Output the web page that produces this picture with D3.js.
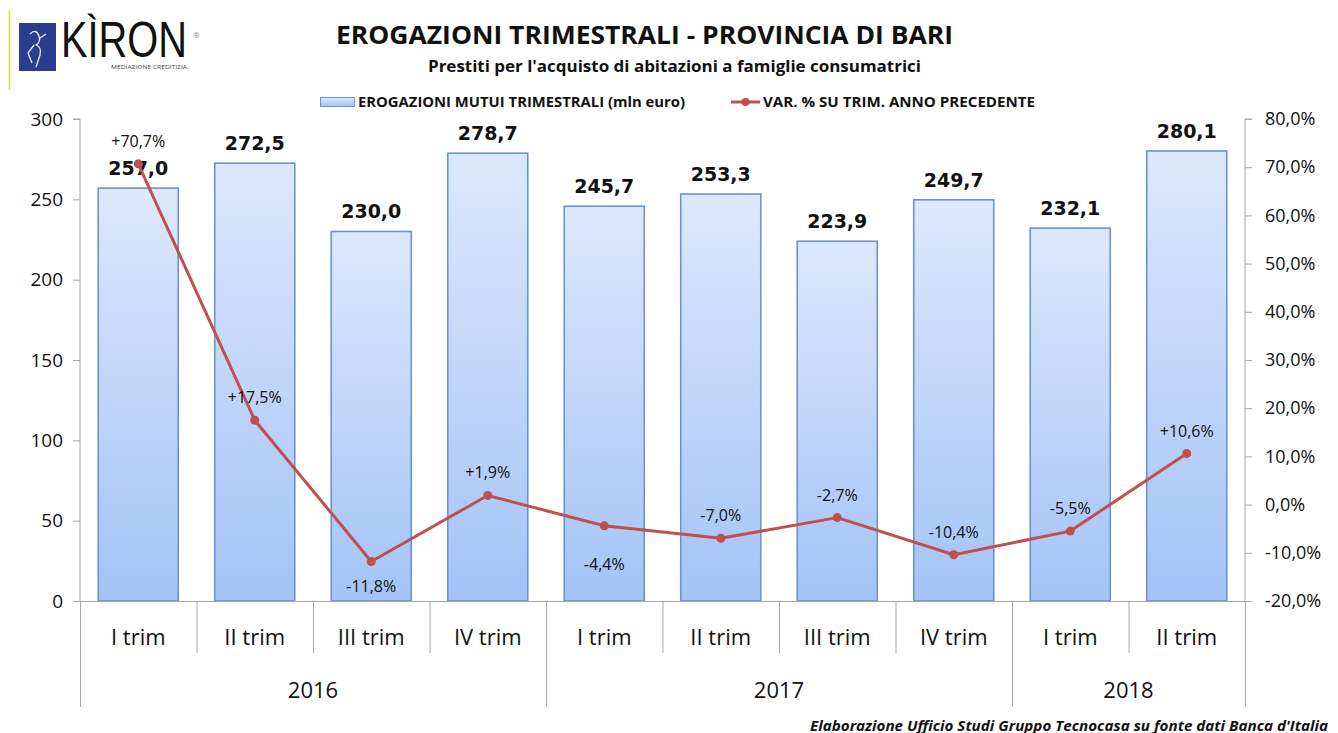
<!DOCTYPE html>
<html><head><meta charset="utf-8">
<script src="https://cdn.jsdelivr.net/npm/d3@7"></script>
<style>
html,body{margin:0;padding:0;background:#fff;}
svg{display:block;font-family:"Open Sans","Liberation Sans",sans-serif;}
</style></head>
<body>
<svg id="c" width="1338" height="733"></svg>
<script>
const quarters = ["I trim","II trim","III trim","IV trim","I trim","II trim","III trim","IV trim","I trim","II trim"];
const years = ["2016","2017","2018"];
const quartersPerYear = [4,4,2];
const erogazioni = [257.0,272.5,230.0,278.7,245.7,253.3,223.9,249.7,232.1,280.1];
const variazione = [70.7,17.5,-11.8,1.9,-4.4,-7.0,-2.7,-10.4,-5.5,10.6];
const varLabelSide = ["above","above","below","above","below","above","above","above","above","above"];
const leftTicks = [0,50,100,150,200,250,300];
const rightTicks = [-20,-10,0,10,20,30,40,50,60,70,80];

const svg = d3.select("#c");
const L = 80, R = 1245, T = 119, B = 601;
const fmt1 = v => v.toFixed(1).replace(".", ",");
const fmtPct = v => (v > 0 ? "+" : "") + v.toFixed(1).replace(".", ",") + "%";

const idx = d3.range(quarters.length);
const x = d3.scaleBand().domain(idx).range([L, R]).paddingInner(0.313).paddingOuter(0.1565);
const step = x.step();
const yL = d3.scaleLinear().domain([0, 300]).range([B, T]);
const yR = d3.scaleLinear().domain([-20, 80]).range([B, T]);

// gradient
const defs = svg.append("defs");
const g = defs.append("linearGradient").attr("id","barGrad").attr("x1",0).attr("y1",0).attr("x2",0).attr("y2",1);
g.append("stop").attr("offset","0%").attr("stop-color","#dde8fc");
g.append("stop").attr("offset","100%").attr("stop-color","#a3c3f7");
const lg = defs.append("linearGradient").attr("id","legGrad").attr("x1",0).attr("y1",0).attr("x2",0).attr("y2",1);
lg.append("stop").attr("offset","0%").attr("stop-color","#dde8fc");
lg.append("stop").attr("offset","100%").attr("stop-color","#a3c3f7");

// logo
svg.append("line").attr("x1",9.5).attr("x2",9.5).attr("y1",10).attr("y2",90).attr("stroke","#d8dc3a").attr("stroke-width",1.5);
svg.append("rect").attr("x",19).attr("y",23).attr("width",37).attr("height",48).attr("fill","#2a3d8f");
svg.append("path").attr("d","M30 34 q6 -6 9 2 q2 6 -3 9 q6 2 4 10 l-4 12 M34 45 l-6 8 l4 10 M40 38 l6 -4")
  .attr("fill","none").attr("stroke","#e8ecf6").attr("stroke-width",1.3);
svg.append("text").attr("x",61).attr("y",57).attr("font-family","Liberation Sans, sans-serif").attr("font-size",50)
  .attr("fill","#111").attr("textLength",126).attr("lengthAdjust","spacingAndGlyphs").text("KÌRON");
svg.append("text").attr("x",193).attr("y",38).attr("font-size",8).attr("fill","#888").text("®");
svg.append("text").attr("x",111).attr("y",69).attr("font-size",6).attr("fill","#444").attr("textLength",76).attr("lengthAdjust","spacingAndGlyphs").text("MEDIAZIONE CREDITIZIA");

// titles
svg.append("text").attr("x",336).attr("y",44).attr("font-size",25).attr("font-weight","bold").attr("fill","#111")
  .attr("textLength",617).attr("lengthAdjust","spacingAndGlyphs").text("EROGAZIONI TRIMESTRALI - PROVINCIA DI BARI");
svg.append("text").attr("x",428).attr("y",72).attr("font-size",16).attr("font-weight","bold").attr("fill","#111")
  .attr("textLength",493).attr("lengthAdjust","spacingAndGlyphs").text("Prestiti per l'acquisto di abitazioni a famiglie consumatrici");

// legend
svg.append("rect").attr("x",320.5).attr("y",97.5).attr("width",34).attr("height",9).attr("fill","url(#legGrad)").attr("stroke","#6a93d0").attr("stroke-width",1);
svg.append("text").attr("x",358).attr("y",107).attr("font-size",14).attr("font-weight","bold").attr("fill","#111")
  .attr("textLength",327).attr("lengthAdjust","spacingAndGlyphs").text("EROGAZIONI MUTUI TRIMESTRALI (mln euro)");
svg.append("line").attr("x1",731).attr("x2",760).attr("y1",102).attr("y2",102).attr("stroke","#c0504d").attr("stroke-width",3);
svg.append("circle").attr("cx",745.5).attr("cy",102).attr("r",4).attr("fill","#c0504d");
svg.append("text").attr("x",763).attr("y",107).attr("font-size",14).attr("font-weight","bold").attr("fill","#111")
  .attr("textLength",272).attr("lengthAdjust","spacingAndGlyphs").text("VAR. % SU TRIM. ANNO PRECEDENTE");

// left axis
const gl = svg.append("g").attr("transform",`translate(${L},0)`)
  .call(d3.axisLeft(yL).tickValues(leftTicks).tickSize(7).tickPadding(10).tickFormat(d=>d));
gl.select(".domain").attr("stroke","#a6a6a6").attr("d",`M-7,${T}H0V${B}`);
gl.selectAll(".tick line").attr("stroke","#a6a6a6");
gl.selectAll(".tick text").attr("font-size",19).attr("fill","#111").attr("font-family","Open Sans, sans-serif");

// right axis
const gr = svg.append("g").attr("transform",`translate(${R},0)`)
  .call(d3.axisRight(yR).tickValues(rightTicks).tickSize(7).tickPadding(13).tickFormat(d=>d.toFixed(1).replace(".",",")+"%"));
gr.select(".domain").attr("stroke","#a6a6a6").attr("d",`M7,${T}H0V${B}`);
gr.selectAll(".tick line").attr("stroke","#a6a6a6");
gr.selectAll(".tick text").attr("font-size",18).attr("fill","#111").attr("font-family","Open Sans, sans-serif");

// bars
svg.append("g").selectAll("rect").data(erogazioni).join("rect")
  .attr("x",(d,i)=>x(i)).attr("y",d=>yL(d)).attr("width",x.bandwidth()).attr("height",d=>B-yL(d))
  .attr("fill","url(#barGrad)").attr("stroke","#6a93d0").attr("stroke-width",1.6);

// baseline
svg.append("line").attr("x1",L-7).attr("x2",R+7).attr("y1",B+0.5).attr("y2",B+0.5).attr("stroke","#a6a6a6").attr("stroke-width",1);

// category separators
svg.append("g").selectAll("line").data(d3.range(1,quarters.length)).join("line")
  .attr("x1",i=>L+i*step+0.5).attr("x2",i=>L+i*step+0.5).attr("y1",B).attr("y2",653)
  .attr("stroke","#a6a6a6");
// year separators
let cum = [0];
quartersPerYear.forEach(n=>cum.push(cum[cum.length-1]+n));
svg.append("g").selectAll("line").data(cum).join("line")
  .attr("x1",c=>L+c*step+0.5).attr("x2",c=>L+c*step+0.5).attr("y1",B).attr("y2",707)
  .attr("stroke","#a6a6a6");

// category labels
svg.append("g").selectAll("text").data(quarters).join("text")
  .attr("x",(d,i)=>x(i)+x.bandwidth()/2).attr("y",645).attr("text-anchor","middle")
  .attr("font-size",22).attr("fill","#111").text(d=>d);
// year labels
svg.append("g").selectAll("text").data(years).join("text")
  .attr("x",(d,i)=>L+(cum[i]+cum[i+1])/2*step).attr("y",698).attr("text-anchor","middle")
  .attr("font-size",22).attr("fill","#111").text(d=>d);

// bar value labels
svg.append("g").selectAll("text").data(erogazioni).join("text")
  .attr("x",(d,i)=>x(i)+x.bandwidth()/2).attr("y",d=>yL(d)-13).attr("text-anchor","middle")
  .attr("font-family","DejaVu Sans, sans-serif")
  .attr("font-size",19).attr("font-weight","bold").attr("fill","#111").text(d=>fmt1(d));

// line
const cx = i => x(i)+x.bandwidth()/2;
svg.append("path").datum(variazione)
  .attr("d",d3.line().x((d,i)=>cx(i)).y(d=>yR(d)))
  .attr("fill","none").attr("stroke","#c0504d").attr("stroke-width",3).attr("stroke-linejoin","round");
svg.append("g").selectAll("circle").data(variazione).join("circle")
  .attr("cx",(d,i)=>cx(i)).attr("cy",d=>yR(d)).attr("r",4.5).attr("fill","#c0504d");

// line labels
svg.append("g").selectAll("text").data(variazione).join("text")
  .attr("x",(d,i)=>cx(i)).attr("y",(d,i)=>varLabelSide[i]==="above" ? yR(d)-17 : yR(d)+(i===4?44:31))
  .attr("text-anchor","middle").attr("font-size",16).attr("fill","#111").text(d=>fmtPct(d));

// footer
svg.append("text").attr("x",1328).attr("y",731).attr("text-anchor","end").attr("font-size",14)
  .attr("font-weight","bold").attr("font-style","italic").attr("fill","#111")
  .attr("textLength",518).attr("lengthAdjust","spacingAndGlyphs")
  .text("Elaborazione  Ufficio Studi Gruppo Tecnocasa su fonte dati Banca d'Italia");
</script>
</body></html>
